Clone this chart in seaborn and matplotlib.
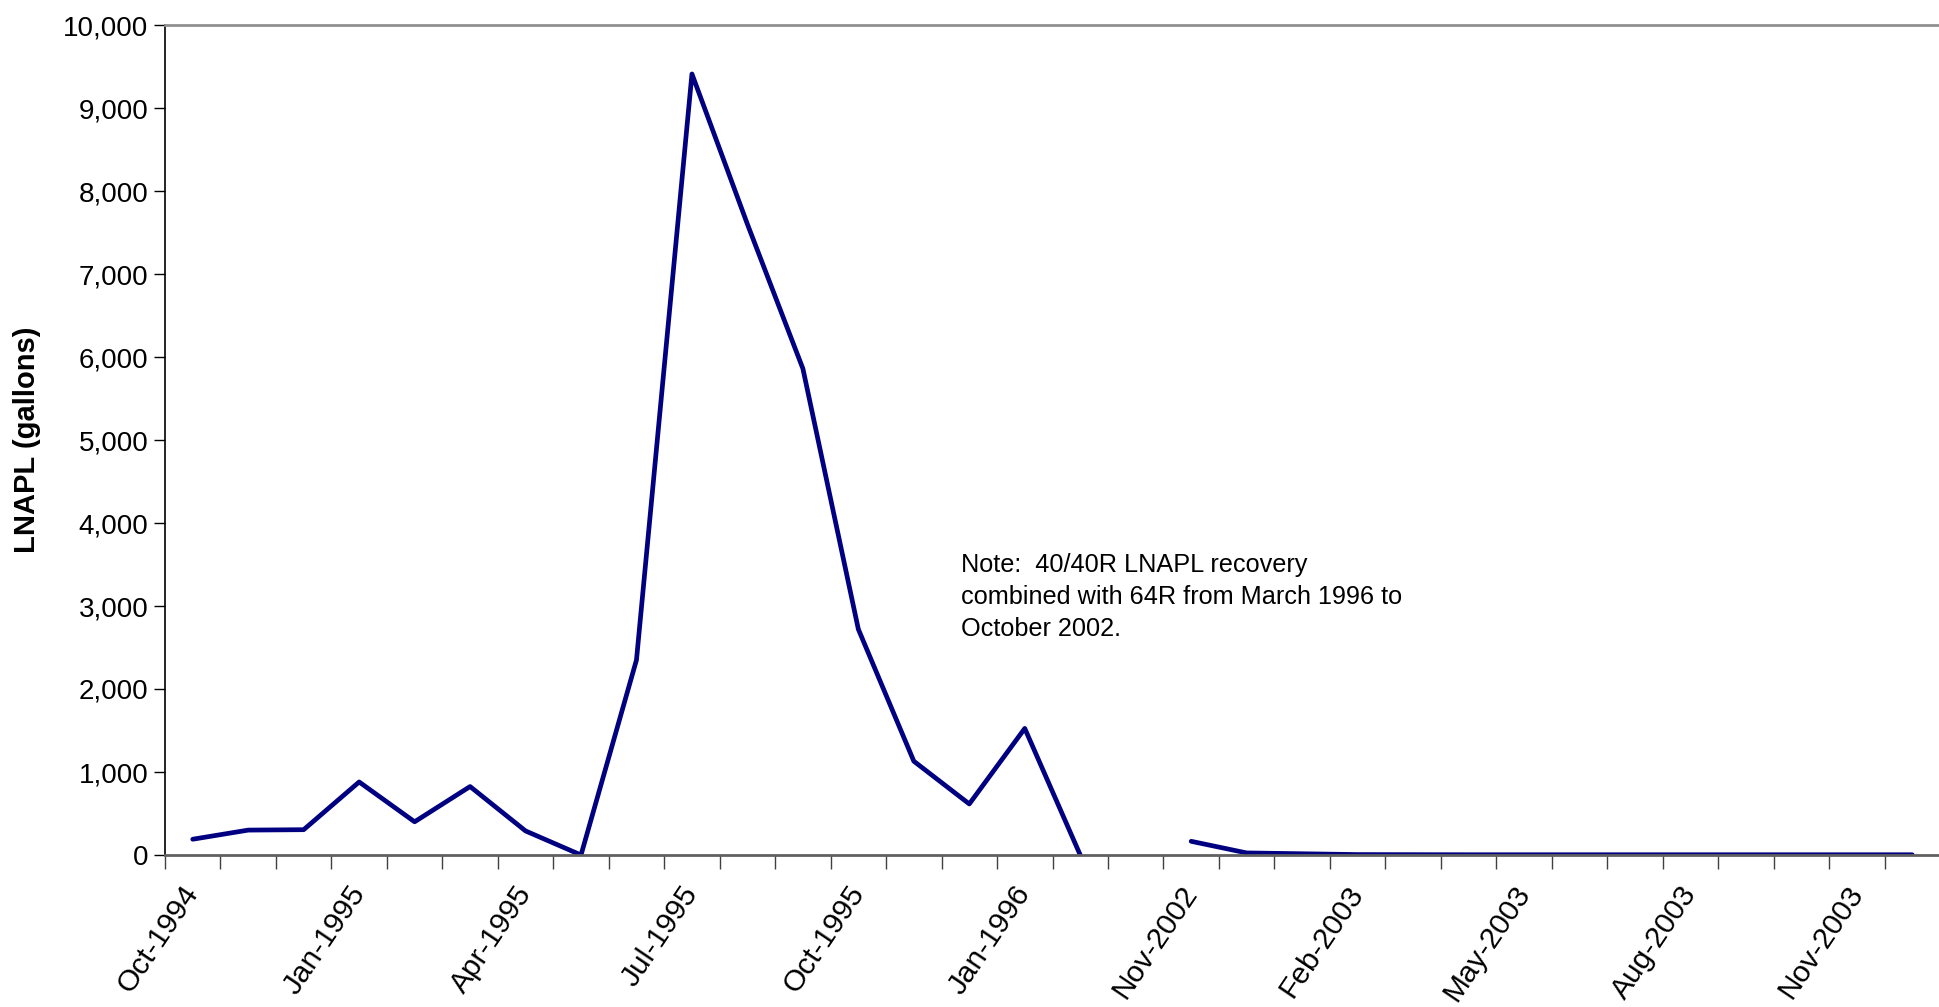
import numpy as np
import pandas as pd
import matplotlib
matplotlib.use("Agg")
import matplotlib.pyplot as plt
import seaborn as sns
from matplotlib.ticker import FuncFormatter, FixedLocator

months = ["Oct-1994", "Nov-1994", "Dec-1994", "Jan-1995", "Feb-1995", "Mar-1995",
          "Apr-1995", "May-1995", "Jun-1995", "Jul-1995", "Aug-1995", "Sep-1995",
          "Oct-1995", "Nov-1995", "Dec-1995", "Jan-1996", "Feb-1996", "Mar-1996",
          "Nov-2002", "Dec-2002", "Jan-2003", "Feb-2003", "Mar-2003", "Apr-2003",
          "May-2003", "Jun-2003", "Jul-2003", "Aug-2003", "Sep-2003", "Oct-2003",
          "Nov-2003", "Dec-2003"]
lnapl = [190, 300, 305, 880, 400, 825, 290, 0, 2350, 9410, 7600, 5860,
         2720, 1130, 615, 1525, 0, np.nan,
         165, 25, 15, 5, 4, 3, 3, 3, 3, 3, 3, 3, 3, 3]
period = ["1994-1996"] * 18 + ["2002-2003"] * 14
note = "Note:  40/40R LNAPL recovery\ncombined with 64R from March 1996 to\nOctober 2002."

df = pd.DataFrame({"idx": np.arange(len(months)), "month": months,
                   "lnapl": lnapl, "period": period}).dropna()

sns.set_style("white")
plt.rcParams["font.family"] = ["Liberation Sans", "DejaVu Sans"]
plt.rcParams["text.color"] = "black"
plt.rcParams["axes.labelcolor"] = "black"
plt.rcParams["xtick.labelcolor"] = "black"
plt.rcParams["ytick.labelcolor"] = "black"

fig = plt.figure(figsize=(19.40, 10.07), dpi=100)
ax = fig.add_axes([165 / 1940, 1 - 855 / 1007, 1 - 165 / 1940, (855 - 25) / 1007])

sns.lineplot(data=df, x="idx", y="lnapl", units="period", estimator=None,
             color="#000080", linewidth=3.4, ax=ax, legend=False)

ax.set_xlim(-0.5, len(months) - 0.5)
ax.set_ylim(0, 10000)
ax.yaxis.set_major_locator(FixedLocator(np.arange(0, 10001, 1000)))
ax.yaxis.set_major_formatter(FuncFormatter(lambda v, p: f"{int(v):,}"))

lab_idx = list(range(0, len(months), 3))
ax.set_xticks(lab_idx)
ax.set_xticklabels([months[i] for i in lab_idx], rotation=56, ha="right",
                   va="center", rotation_mode="anchor", fontsize=21.5,
                   color="black")
ax.set_xticks(np.arange(-0.5, len(months), 1.0), minor=True)
ax.tick_params(axis="x", which="major", length=0, pad=24, labelcolor="black")
ax.tick_params(axis="x", which="minor", length=10, width=1.0, color="#404040",
               direction="out", bottom=True)
ax.tick_params(axis="y", which="major", length=8, width=1.0, color="black",
               direction="out", left=True, labelsize=20, pad=4,
               labelcolor="black")

ax.set_xlabel("")
ax.set_ylabel("LNAPL (gallons)", fontsize=21, fontweight="bold", labelpad=16,
              color="black")

ax.spines["left"].set_color("black")
ax.spines["left"].set_linewidth(1.2)
ax.spines["bottom"].set_color("#606060")
ax.spines["bottom"].set_linewidth(2)
ax.spines["top"].set_color("#909090")
ax.spines["top"].set_linewidth(2)
ax.spines["right"].set_visible(False)

ax.text(961 / 1940, 1 - 553 / 1007, note, transform=fig.transFigure,
        fontsize=18.2, va="top", ha="left", linespacing=1.43, color="black")

fig.savefig("out.png", dpi=100)
